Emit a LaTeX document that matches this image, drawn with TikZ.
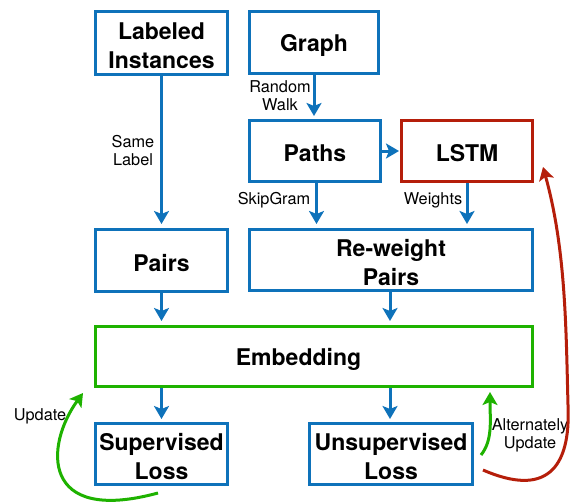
\documentclass[tikz,border=0pt]{standalone}
\usepackage{fontspec}
\setmainfont{TeX Gyre Heros}
\usetikzlibrary{arrows.meta}
\definecolor{flowblue}{RGB}{14,114,186}
\definecolor{lstmred}{RGB}{181,30,10}
\definecolor{embgreen}{RGB}{30,178,0}
\tikzset{
  boxtext/.style={align=center, inner sep=0pt, font=\bfseries\fontsize{23}{29}\selectfont},
  box/.style={draw=flowblue, line width=3pt, fill=white, inner sep=0pt,
    label={[boxtext, yshift=-2.5pt]center:{#1}}},
  flow/.style={draw=flowblue, line width=3pt,
    -{Stealth[length=13pt,width=15pt,inset=3pt]}},
  note/.style={align=center, font=\fontsize{16.3}{18}\selectfont, inner sep=0pt},
}
\begin{document}
\begin{tikzpicture}[x=1pt,y=-1pt]
\useasboundingbox (0,0) rectangle (575,503);
% boxes
\node[box={Labeled\\Instances}, minimum width=132pt, minimum height=62pt] (lab) at (161.5,43) {};
\node[box={Graph}, minimum width=129pt, minimum height=62pt] (graph) at (314,42.5) {};
\node[box={Paths}, minimum width=131pt, minimum height=61pt] (paths) at (315,151) {};
\node[box={LSTM}, draw=lstmred, minimum width=131pt, minimum height=61pt] (lstm) at (467,151) {};
\node[box={Pairs}, minimum width=132pt, minimum height=62pt] (pairs) at (161.5,260.5) {};
\node[box={Re-weight\\Pairs}, minimum width=283pt, minimum height=61pt] (rw) at (391,260) {};
\node[draw=embgreen, line width=3pt, minimum width=437pt, minimum height=60pt, inner sep=0pt] (emb) at (314,356.5) {};
\node[boxtext] (embText) at (298.5,359) {Embedding};
\node[box={Supervised\\Loss}, minimum width=132pt, minimum height=61pt] (sup) at (161.5,454) {};
\node[box={Unsupervised\\Loss}, minimum width=163pt, minimum height=61pt] (unsup) at (391,454) {};
% edge labels
\node[note] (lSame) at (133,151) {Same\\Label};
\node[note] (lWalk) at (280,96) {Random\\Walk};
\node[note] (lSkip) at (274,200) {SkipGram};
\node[note] (lWeights) at (433,200) {Weights};
\node[note] (lUpd) at (40,416) {Update};
\node[note] (lAlt) at (530,435) {Alternately\\Update};
% straight flows
\draw[flow, shorten >=4pt] (lab.south) -- (pairs.north);
\draw[flow, shorten >=3pt] (graph.south) -- (paths.north -| graph.south);
\draw[flow, shorten >=1pt] (paths.east) -- (lstm.west);
\draw[flow, shorten >=4pt] (paths.south -| 316.5,0) -- (rw.north -| 316.5,0);
\draw[flow, shorten >=4pt] (lstm.south) -- (rw.north -| lstm.south);
\draw[flow, shorten >=4pt] (pairs.south) -- (emb.north -| pairs.south);
\draw[flow, shorten >=4pt] (rw.south -| 390,0) -- (emb.north -| 390,0);
\draw[flow, shorten >=3pt] (emb.south -| sup.north) -- (sup.north);
\draw[flow, shorten >=3pt] (emb.south -| 390,0) -- (unsup.north -| 390,0);
% feedback loops
\coordinate (supOut) at (158,493);
\coordinate (embInL) at (83,393);
\coordinate (unsupOutG) at (481,455);
\coordinate (embInR) at (490,392);
\coordinate (unsupOutR) at (483,470);
\coordinate (redMid) at (568,405);
\coordinate (lstmIn) at (543,167);
\draw[flow, draw=embgreen] (supOut) .. controls (40,525) and (45,445) .. (embInL);
\draw[flow, draw=embgreen] (unsupOutG) .. controls (493,440) and (490,420) .. (embInR);
\draw[flow, draw=lstmred] (unsupOutR) .. controls (545,497) and (571,470) .. (redMid)
  .. controls (566,330) and (566,250) .. (lstmIn);
\end{tikzpicture}
\end{document}
